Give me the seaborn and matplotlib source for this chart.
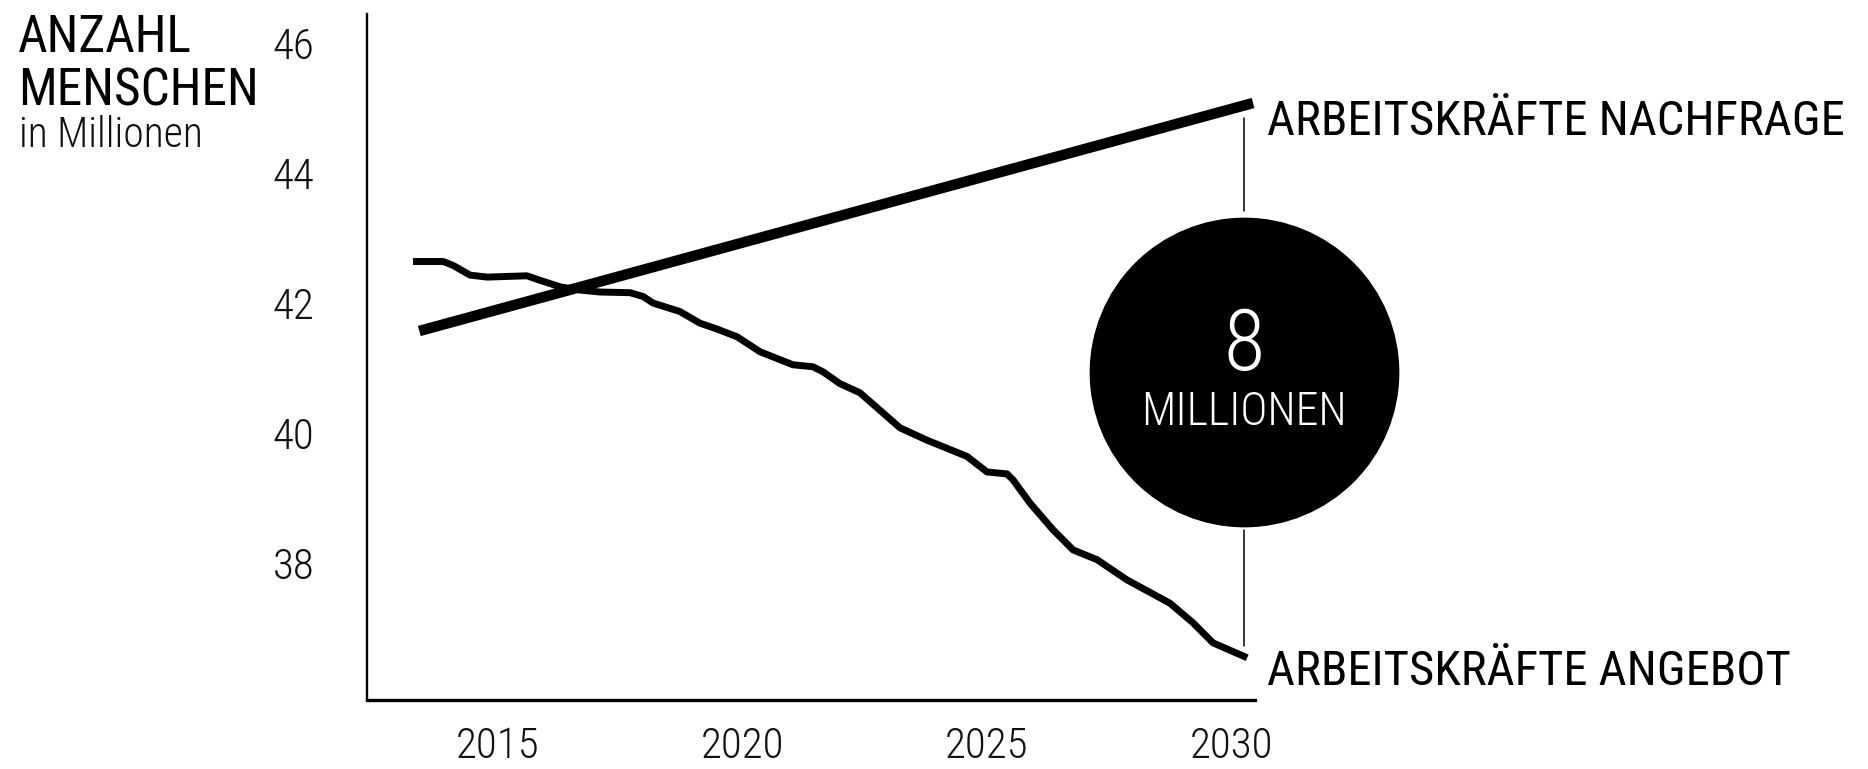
import matplotlib
matplotlib.use("Agg")
import matplotlib.pyplot as plt
import matplotlib.font_manager as fm
import seaborn as sns
import pandas as pd

# ---------------- data ----------------
demand_years = [2013.4, 2030.45]
demand_vals = [41.57, 45.08]

supply_years = [2013.27, 2013.89, 2014.09, 2014.44, 2014.79, 2015.60, 2015.87, 2016.28,
                2016.69, 2017.10, 2017.71, 2017.98, 2018.18, 2018.73, 2019.14, 2019.49,
                2019.90, 2020.37, 2021.04, 2021.45, 2021.66, 2022.00, 2022.41, 2022.82,
                2023.23, 2023.78, 2024.60, 2025.01, 2025.42, 2025.54, 2025.89, 2026.36,
                2026.77, 2027.26, 2027.87, 2028.75, 2029.22, 2029.63, 2030.33]
supply_vals = [42.64, 42.64, 42.58, 42.43, 42.40, 42.42, 42.35, 42.25,
               42.20, 42.17, 42.16, 42.10, 42.00, 41.87, 41.69, 41.60,
               41.48, 41.25, 41.05, 41.02, 40.94, 40.76, 40.62, 40.35,
               40.08, 39.89, 39.64, 39.40, 39.37, 39.28, 38.92, 38.51,
               38.20, 38.05, 37.74, 37.38, 37.08, 36.77, 36.54]

x_ticks = [2015, 2020, 2025, 2030]
y_ticks = [38, 40, 42, 44, 46]

label_demand = "ARBEITSKRÄFTE NACHFRAGE"
label_supply = "ARBEITSKRÄFTE ANGEBOT"
gap_number = "8"
gap_unit = "MILLIONEN"
title_lines = ["ANZAHL", "MENSCHEN"]
subtitle = "in Millionen"

# ---------------- style ----------------
sns.set_theme(style="white")
names = {f.name for f in fm.fontManager.ttflist}
font = "DejaVu Sans"
stretch = "normal"
for cand in ["Roboto Condensed", "Liberation Sans Narrow", "DejaVu Sans Condensed"]:
    if cand in names:
        font = cand
        break
else:
    stretch = "condensed"
plt.rcParams["font.family"] = [font, "DejaVu Sans"]
plt.rcParams["font.stretch"] = stretch

fig = plt.figure(figsize=(18.68, 7.69), dpi=100)
W, H = 1868, 769
ax = fig.add_axes([367 / W, 1 - 700 / H, (1255 - 367) / W, (700 - 14) / H])

df_d = pd.DataFrame({"year": demand_years, "value": demand_vals})
df_s = pd.DataFrame({"year": supply_years, "value": supply_vals})
sns.lineplot(data=df_d, x="year", y="value", ax=ax, color="black", lw=7.6,
             solid_capstyle="butt", clip_on=False)
sns.lineplot(data=df_s, x="year", y="value", ax=ax, color="black", lw=5.0,
             solid_capstyle="butt", solid_joinstyle="round", clip_on=False)

ax.set_xlim(2012.33, 2030.49)
ax.set_ylim(35.89, 46.45)
ax.set_xticks(x_ticks)
ax.set_yticks(y_ticks)
ax.set_xticklabels([str(t) for t in x_ticks])
ax.set_yticklabels([str(t) for t in y_ticks])
ax.set_xlabel("")
ax.set_ylabel("")
ax.tick_params(axis="both", length=0, labelsize=31, colors="#111111")
ax.tick_params(axis="x", pad=19)
ax.tick_params(axis="y", pad=38)
for lab in ax.get_xticklabels() + ax.get_yticklabels():
    lab.set_fontweight("light")
for s in ["top", "right"]:
    ax.spines[s].set_visible(False)
ax.spines["left"].set_linewidth(1.7)
ax.spines["bottom"].set_linewidth(2.4)
ax.spines["left"].set_color("black")
ax.spines["bottom"].set_color("black")

# ---------------- gap annotation ----------------
gap_x = 2030.27
circle_y = 40.94
circle_r = 2.385  # in data units (y)
ax.scatter([gap_x], [circle_y], s=223 ** 2, color="black", zorder=5, clip_on=False,
           linewidths=0)
ax.plot([gap_x, gap_x], [demand_vals[-1] - 0.23, circle_y + circle_r + 0.1],
        color="black", lw=1.1, clip_on=False)
ax.plot([gap_x, gap_x], [circle_y - circle_r - 0.05, supply_vals[-1] + 0.18],
        color="black", lw=1.1, clip_on=False)
ax.annotate(gap_number, xy=(gap_x, circle_y), xytext=(0, 1.5), textcoords="offset points",
            ha="center", va="baseline", fontsize=61, color="white", weight="light",
            zorder=6, annotation_clip=False)
ax.annotate(gap_unit, xy=(gap_x, circle_y), xytext=(0, -38), textcoords="offset points",
            ha="center", va="baseline", fontsize=33, color="white", weight="light",
            zorder=6, annotation_clip=False)

# ---------------- series labels ----------------
ax.annotate(label_demand, xy=(demand_years[-1], demand_vals[-1]), xytext=(10, -23),
            textcoords="offset points", ha="left", va="baseline", fontsize=35,
            color="black", annotation_clip=False)
ax.annotate(label_supply, xy=(supply_years[-1], supply_vals[-1]), xytext=(14, -19.5),
            textcoords="offset points", ha="left", va="baseline", fontsize=35,
            color="black", annotation_clip=False)

# ---------------- title ----------------
fig.text(18 / W, 1 - 52 / H, title_lines[0], ha="left", va="baseline", fontsize=37,
         color="black", weight="normal")
fig.text(18 / W, 1 - 106 / H, title_lines[1], ha="left", va="baseline", fontsize=37,
         color="black", weight="normal")
fig.text(19 / W, 1 - 147 / H, subtitle, ha="left", va="baseline", fontsize=30,
         color="#111111", weight="light")

fig.savefig("out.png", dpi=100)
